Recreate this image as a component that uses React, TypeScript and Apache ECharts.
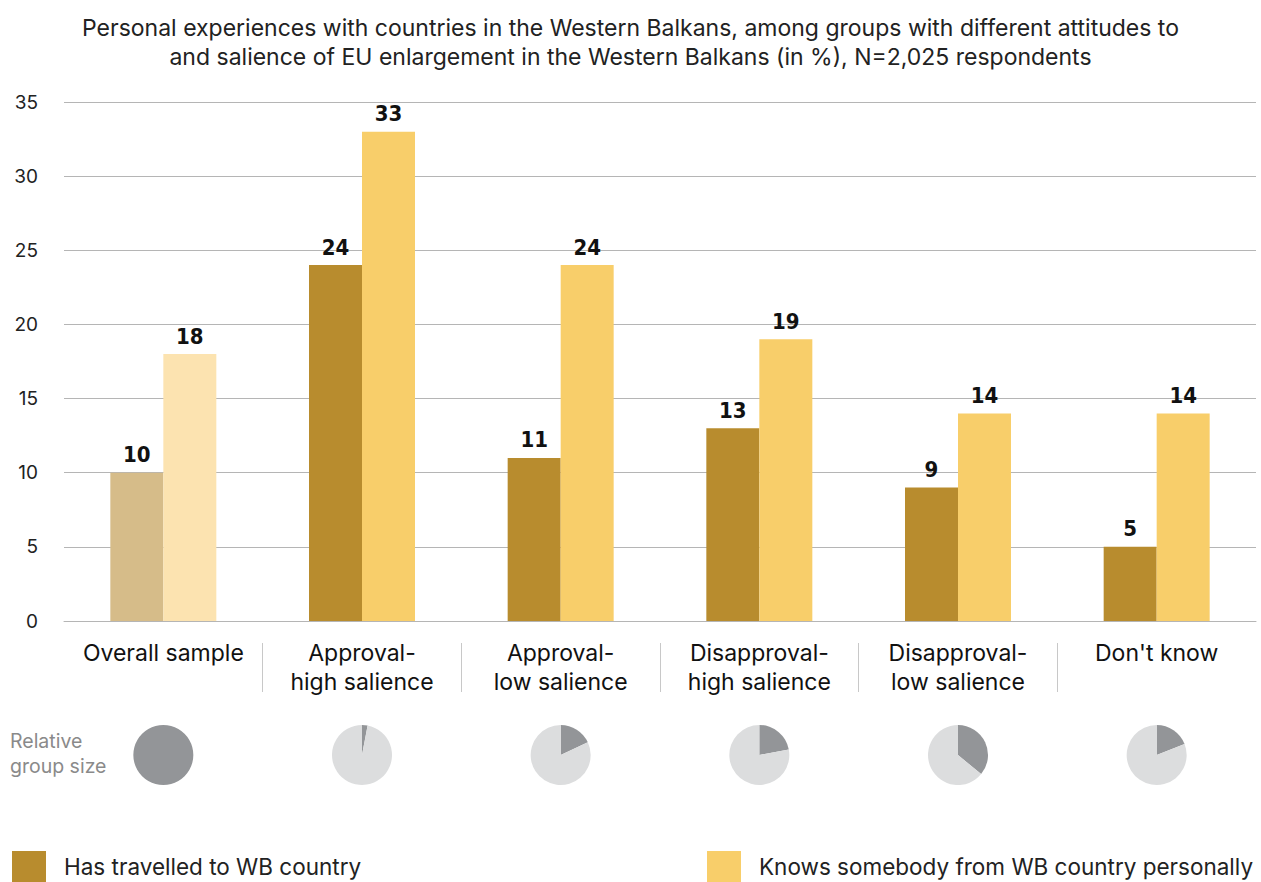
import React, { useEffect, useRef } from "react";
import * as echarts from "echarts";

const categories = [
  "Overall sample",
  "Approval-\nhigh salience",
  "Approval-\nlow salience",
  "Disapproval-\nhigh salience",
  "Disapproval-\nlow salience",
  "Don't know",
];
const travelled = [10, 24, 11, 13, 9, 5];
const knows = [18, 33, 24, 19, 14, 14];
const groupShare = [100, 3, 18, 22, 36, 19];
const yTicks = { min: 0, max: 35, interval: 5 };

const SERIES_A = "Has travelled to WB country";
const SERIES_B = "Knows somebody from WB country personally";

const W = 1261;
const H = 882;
const GRID_LEFT = 64;
const GRID_RIGHT = 5;
const GRID_TOP = 102;
const GRID_BOTTOM = 261;

export default function App() {
  const ref = useRef<HTMLDivElement>(null);
  useEffect(() => {
    if (!ref.current) return;
    const chart = echarts.init(ref.current, undefined, { renderer: "svg" });
    const step = (W - GRID_LEFT - GRID_RIGHT) / categories.length;
    const font = "Inter, Roboto, 'Noto Sans', sans-serif";
    const labelFont = "'Liberation Sans Narrow', 'DejaVu Sans Condensed', sans-serif";
    const dark = "#B88C2E";
    const light = "#F8CE6A";
    const darkOv = "#D6BC89";
    const lightOv = "#FCE3B0";
    const pieDark = "#939598";
    const pieLight = "#DCDDDE";

    const valueLabel = {
      show: true,
      position: "top",
      distance: 7,
      fontFamily: labelFont,
      fontWeight: "bold",
      fontSize: 22,
      color: "#111",
    };

    const pies = groupShare.map((s, i) => ({
      type: "pie",
      silent: true,
      radius: 30,
      center: [GRID_LEFT + step * (i + 0.5), 755],
      startAngle: 90,
      clockwise: true,
      label: { show: false },
      labelLine: { show: false },
      emphasis: { disabled: true },
      data:
        s >= 100
          ? [{ value: s, name: "g" + i + "a", itemStyle: { color: pieDark } }]
          : [
              { value: s, name: "g" + i + "a", itemStyle: { color: pieDark } },
              { value: 100 - s, name: "g" + i + "b", itemStyle: { color: pieLight } },
            ],
    }));

    const legendText = { fontFamily: font, fontSize: 22.5, color: "#222", padding: [14, 0, 0, 13] };

    chart.setOption({
      animation: false,
      title: {
        text:
          "Personal experiences with countries in the Western Balkans, among groups with different attitudes to\nand salience of EU enlargement in the Western Balkans (in %), N=2,025 respondents",
        left: "center",
        top: 8,
        textStyle: {
          fontFamily: font,
          fontWeight: "normal",
          fontSize: 23,
          lineHeight: 29,
          color: "#222",
        },
      },
      legend: [
        {
          data: [SERIES_A],
          left: 7,
          top: 846,
          icon: "rect",
          itemWidth: 34,
          itemHeight: 31,
          selectedMode: false,
          textStyle: legendText,
        },
        {
          data: [SERIES_B],
          left: 702,
          top: 846,
          icon: "rect",
          itemWidth: 34,
          itemHeight: 31,
          selectedMode: false,
          textStyle: legendText,
        },
      ],
      graphic: [
        {
          type: "text",
          left: 10,
          top: 728,
          style: {
            text: "Relative\ngroup size",
            fontFamily: font,
            fontSize: 19.5,
            lineHeight: 25,
            fill: "#8a8a8a",
          },
        },
      ],
      grid: [
        { left: GRID_LEFT, right: GRID_RIGHT, top: GRID_TOP, bottom: GRID_BOTTOM },
        {
          left: GRID_LEFT + step,
          right: W - (GRID_LEFT + step * 5),
          top: GRID_TOP,
          bottom: GRID_BOTTOM - 22,
        },
      ],
      xAxis: [
        {
          type: "category",
          gridIndex: 0,
          data: categories,
          axisLine: { show: true, lineStyle: { color: "#b5b5b5", width: 1 } },
          axisTick: { show: false },
          axisLabel: {
            margin: 17,
            fontFamily: font,
            fontSize: 23,
            lineHeight: 29,
            color: "#111",
            interval: 0,
          },
        },
        {
          type: "category",
          gridIndex: 1,
          data: ["", "", "", ""],
          axisLine: { show: false },
          axisTick: { show: true, length: 49, lineStyle: { color: "#c8c8c8", width: 1 } },
          axisLabel: { show: false },
        },
      ],
      yAxis: [
        {
          type: "value",
          gridIndex: 0,
          min: yTicks.min,
          max: yTicks.max,
          interval: yTicks.interval,
          axisLine: { show: false },
          axisTick: { show: false },
          axisLabel: {
            margin: 26,
            fontFamily: font,
            fontSize: 19,
            color: "#222",
          },
          splitLine: { show: true, lineStyle: { color: "#b5b5b5", width: 1 } },
        },
        { type: "value", gridIndex: 1, show: false },
      ],
      series: [
        {
          name: SERIES_A,
          type: "bar",
          xAxisIndex: 0,
          yAxisIndex: 0,
          barWidth: 53,
          barGap: "0%",
          itemStyle: { color: dark },
          label: valueLabel,
          data: travelled.map((v, i) =>
            i === 0 ? { value: v, itemStyle: { color: darkOv } } : v
          ),
        },
        {
          name: SERIES_B,
          type: "bar",
          xAxisIndex: 0,
          yAxisIndex: 0,
          barWidth: 53,
          barGap: "0%",
          itemStyle: { color: light },
          label: valueLabel,
          data: knows.map((v, i) =>
            i === 0 ? { value: v, itemStyle: { color: lightOv } } : v
          ),
        },
        ...pies,
      ],
    });
    return () => chart.dispose();
  }, []);
  return (
    <div
      ref={ref}
      style={{ position: "absolute", left: 0, top: 0, width: W, height: H, background: "#fff" }}
    />
  );
}
